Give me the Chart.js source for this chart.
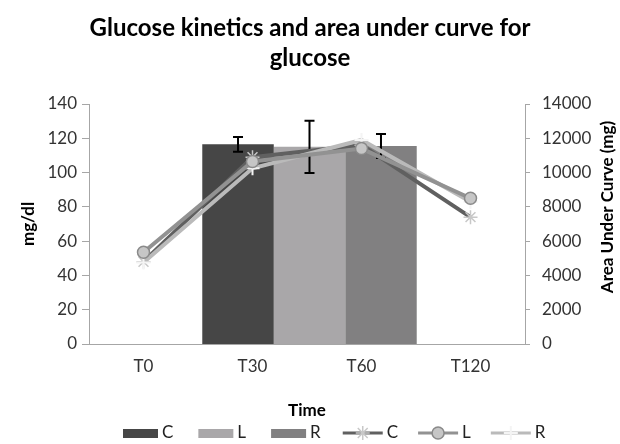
<!DOCTYPE html>
<html>
<head>
<meta charset="utf-8">
<script src="https://cdn.jsdelivr.net/npm/chart.js@4.4.1/dist/chart.umd.min.js"></script>
<style>
  html, body { margin: 0; padding: 0; background: #fff; }
  #wrap { position: relative; width: 620px; height: 444px; }
  #wrap canvas { position: absolute; left: 0; top: 0; }
</style>
</head>
<body>
<div id="wrap">
  <canvas id="barChart" width="620" height="444"></canvas>
  <canvas id="lineChart" width="620" height="444"></canvas>
</div>
<script>
// glucose kinetics (left axis, mg/dl)
const timeLabels = ['T0', 'T30', 'T60', 'T120'];
const glucoseC = [48, 109, 116, 74];
const glucoseL = [53.5, 106.5, 114, 85];
const glucoseR = [47.5, 102.5, 119, 83];

// area under curve (right axis, mg) - one group of bars
const aucLabels = ['AUC'];
const aucC = [11650];
const aucL = [11500];
const aucR = [11550];
const aucErrC = [430];
const aucErrL = [1530];
const aucErrR = [700];

const FONT = 'Lato, "Open Sans", sans-serif';
const axisGray = '#a6a6a6';
// plot area of the line chart (left axis 89px, right axis 95px)
const plotPadding = { left: 89, right: 95, top: 104, bottom: 100 };
// bar group sits a little right of the plot centre in the original
const barPadding = { left: 92, right: 93, top: 104, bottom: 100 };

const barSets = [
  { label: 'C', data: aucC, errors: aucErrC, backgroundColor: '#464646' },
  { label: 'L', data: aucL, errors: aucErrL, backgroundColor: '#a9a7a9' },
  { label: 'R', data: aucR, errors: aucErrR, backgroundColor: '#818081' }
].map(d => Object.assign(d, { categoryPercentage: 0.493, barPercentage: 1, borderWidth: 0 }));

const lineSets = [
  {
    label: 'C', data: glucoseC, order: 1,
    borderColor: '#606060', borderWidth: 4,
    pointStyle: 'star', pointRadius: 7, pointBorderWidth: 1.5,
    pointBorderColor: '#c8c8c8', pointBackgroundColor: '#c8c8c8'
  },
  {
    label: 'L', data: glucoseL, order: 0,
    borderColor: '#929292', borderWidth: 4,
    pointStyle: 'circle', pointRadius: 6, pointBorderWidth: 1.5,
    pointBorderColor: '#8a8a8a', pointBackgroundColor: '#c6c6c6'
  },
  {
    label: 'R', data: glucoseR, order: 0,
    borderColor: '#bababa', borderWidth: 4,
    pointStyle: 'cross', pointRadius: 7, pointBorderWidth: 2,
    pointBorderColor: '#f4f4f4', pointBackgroundColor: '#f4f4f4'
  }
];

const errorBars = {
  id: 'errorBars',
  afterDatasetDraw(chart, args) {
    const ds = chart.data.datasets[args.index];
    if (!ds.errors) return;
    const yScale = chart.scales[args.meta.yAxisID];
    const ctx = chart.ctx;
    ctx.save();
    ctx.strokeStyle = '#000';
    ctx.lineWidth = 2;
    args.meta.data.forEach((el, i) => {
      const v = ds.data[i], e = ds.errors[i];
      const yTop = yScale.getPixelForValue(v + e);
      const yBot = yScale.getPixelForValue(v - e);
      ctx.beginPath();
      ctx.moveTo(el.x, yTop); ctx.lineTo(el.x, yBot);
      ctx.moveTo(el.x - 5, yTop); ctx.lineTo(el.x + 5, yTop);
      ctx.moveTo(el.x - 5, yBot); ctx.lineTo(el.x + 5, yBot);
      ctx.stroke();
    });
    ctx.restore();
  }
};

function drawMarker(ctx, d, x, y) {
  ctx.save();
  ctx.fillStyle = d.pointBackgroundColor;
  ctx.strokeStyle = d.pointBorderColor;
  ctx.lineWidth = d.pointBorderWidth;
  Chart.helpers.drawPoint(ctx, {
    pointStyle: d.pointStyle,
    radius: d.pointRadius,
    borderWidth: d.pointBorderWidth,
    rotation: 0
  }, x, y);
  ctx.restore();
}

const extras = {
  id: 'extras',
  afterDraw(chart) {
    const ctx = chart.ctx;
    ctx.save();
    // right axis title, reads bottom to top
    ctx.translate(608, 207);
    ctx.rotate(-Math.PI / 2);
    ctx.font = 'bold 17px ' + FONT;
    ctx.fillStyle = '#000';
    ctx.textAlign = 'center';
    ctx.textBaseline = 'middle';
    ctx.fillText('Area Under Curve (mg)', 0, 0);
    ctx.restore();

    // legend
    const y = 433;
    let x = 123;
    ctx.save();
    ctx.font = '17px ' + FONT;
    ctx.textBaseline = 'middle';
    barSets.forEach(d => {
      ctx.fillStyle = d.backgroundColor;
      ctx.fillRect(x, y - 4, 35, 9);
      x += 39;
      ctx.fillStyle = '#222';
      ctx.fillText(d.label, x, y);
      x += ctx.measureText(d.label).width + 25;
    });
    x -= 3;
    lineSets.forEach(d => {
      ctx.strokeStyle = d.borderColor;
      ctx.lineWidth = 3;
      ctx.beginPath();
      ctx.moveTo(x, y); ctx.lineTo(x + 40, y);
      ctx.stroke();
      drawMarker(ctx, d, x + 20, y);
      x += 44;
      ctx.fillStyle = '#222';
      ctx.fillText(d.label, x, y);
      x += ctx.measureText(d.label).width + 20;
    });
    ctx.restore();
  }
};

// bars + error bars underneath
new Chart(document.getElementById('barChart'), {
  type: 'bar',
  data: { labels: aucLabels, datasets: barSets },
  options: {
    responsive: false,
    animation: false,
    layout: { padding: barPadding },
    plugins: { legend: { display: false }, tooltip: { enabled: false } },
    scales: {
      x: { display: false, offset: true },
      y: { display: false, min: 0, max: 14000 }
    }
  },
  plugins: [errorBars]
});

const tickFont = { family: FONT, size: 17 };
const titleFont = { family: FONT, size: 17, weight: 'bold' };

// axes, titles, lines and legend on top
new Chart(document.getElementById('lineChart'), {
  type: 'line',
  data: {
    labels: timeLabels,
    datasets: lineSets.map(d => Object.assign({ yAxisID: 'y' }, d))
  },
  options: {
    responsive: false,
    animation: false,
    layout: { padding: { top: 0, right: 0, bottom: 22, left: 0 } },
    plugins: {
      legend: { display: false },
      tooltip: { enabled: false },
      title: {
        display: true,
        text: ['Glucose kinetics and area under curve for', 'glucose'],
        color: '#000',
        font: { family: FONT, size: 24, weight: 'bold', lineHeight: 1.25 },
        padding: { top: 13, bottom: 31 }
      }
    },
    scales: {
      x: {
        type: 'category', offset: true, position: 'bottom',
        grid: { display: false },
        border: { color: axisGray },
        ticks: { font: tickFont, color: '#333', padding: 4 },
        title: { display: true, text: 'Time', color: '#000', font: titleFont, padding: { top: 0, bottom: 1 } },
        afterFit: s => { s.height = 78; }
      },
      y: {
        position: 'left', min: 0, max: 140,
        ticks: { stepSize: 20, font: tickFont, color: '#333', padding: 5, callback: v => String(v) },
        grid: { drawOnChartArea: false, tickLength: 7, color: axisGray },
        border: { color: axisGray },
        title: { display: true, text: 'mg/dl', color: '#000', font: titleFont, padding: { top: 18, bottom: 0 } },
        afterFit: s => { s.width = plotPadding.left; }
      },
      y2: {
        position: 'right', min: 0, max: 14000,
        ticks: { stepSize: 2000, font: tickFont, color: '#333', padding: 12, callback: v => String(v) },
        grid: { drawOnChartArea: false, tickLength: 5, color: axisGray },
        border: { color: axisGray },
        afterFit: s => { s.width = plotPadding.right; }
      }
    }
  },
  plugins: [extras]
});
</script>
</body>
</html>
